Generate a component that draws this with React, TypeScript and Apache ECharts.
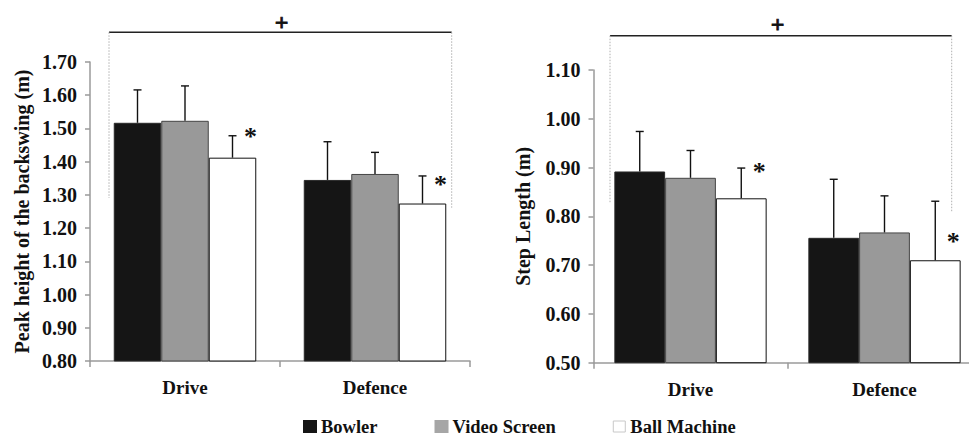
import React, { useEffect, useRef } from "react";
import * as echarts from "echarts";

const categories = ["Drive", "Defence"];
const seriesNames = ["Bowler", "Video Screen", "Ball Machine"];

// Left panel: Peak height of the backswing (m)
const backswingTickLabels = ["0.80", "0.90", "1.00", "1.10", "1.20", "1.30", "1.40", "1.50", "1.60", "1.70"];
const backswingBowler = [1.517, 1.345];
const backswingVideo = [1.523, 1.363];
const backswingMachine = [1.412, 1.274];
const backswingBowlerSD = [0.099, 0.115];
const backswingVideoSD = [0.105, 0.065];
const backswingMachineSD = [0.066, 0.083];
const backswingStarLevels = [1.486, 1.339];

// Right panel: Step Length (m)
const stepTickLabels = ["0.50", "0.60", "0.70", "0.80", "0.90", "1.00", "1.10"];
const stepBowler = [0.892, 0.756];
const stepVideo = [0.879, 0.767];
const stepMachine = [0.837, 0.71];
const stepBowlerSD = [0.082, 0.12];
const stepVideoSD = [0.056, 0.075];
const stepMachineSD = [0.062, 0.121];
const stepStarLevels = [0.899, 0.755];

const FONT = "'Liberation Serif', 'Times New Roman', serif";
const barColors = ["#151515", "#999999", "#ffffff"];
const barBorders = ["#2a2a2a", "#444444", "#111111"];
const AXIS = "#9a9a9a";

function errData(means: number[][], sds: number[][]) {
  const out: number[][] = [];
  means.forEach((m, s) => m.forEach((v, c) => out.push([c, s, v, sds[s][c]])));
  return out;
}

function makeErrRender(barFrac: number) {
  return (params: any, api: any) => {
    const c = api.value(0);
    const s = api.value(1);
    const mean = api.value(2);
    const sd = api.value(3);
    const band = api.size([1, 0])[0];
    const bw = band * barFrac;
    const base = api.coord([c, mean]);
    const top = api.coord([c, mean + sd]);
    const x = base[0] + (s - 1) * bw;
    return {
      type: "group",
      children: [
        { type: "line", shape: { x1: x, y1: base[1], x2: x, y2: top[1] }, style: { stroke: "#111", lineWidth: 1.4 } },
        { type: "line", shape: { x1: x - 4, y1: top[1], x2: x + 4, y2: top[1] }, style: { stroke: "#111", lineWidth: 1.4 } },
      ],
    };
  };
}

function makeStarRender(barFrac: number) {
  return (params: any, api: any) => {
    const c = api.value(0);
    const level = api.value(1);
    const band = api.size([1, 0])[0];
    const bw = band * barFrac;
    const p = api.coord([c, level]);
    return {
      type: "text",
      x: p[0] + bw + 18,
      y: p[1] + 3,
      style: {
        text: "*",
        fill: "#111",
        fontFamily: FONT,
        fontWeight: "bold",
        fontSize: 26,
        align: "center",
        verticalAlign: "middle",
      },
    };
  };
}

export default function App() {
  const ref = useRef<HTMLDivElement>(null);
  useEffect(() => {
    if (!ref.current) return;
    const chart = echarts.init(ref.current, undefined, { renderer: "svg" });
    const leftFrac = 0.25;
    const rightFrac = 0.785 / 3;
    const yAxisCommon = (labels: string[], name: string, nameGap: number, gridIndex: number) => ({
      type: "value",
      gridIndex,
      min: parseFloat(labels[0]),
      max: parseFloat(labels[labels.length - 1]),
      interval: 0.1,
      name,
      nameLocation: "middle",
      nameRotate: 90,
      nameGap,
      nameTextStyle: { fontFamily: FONT, fontWeight: "bold", fontSize: 20, color: "#111" },
      axisLine: { show: true, lineStyle: { color: AXIS, width: 1.5 } },
      axisTick: { show: true, length: 5, lineStyle: { color: AXIS, width: 1.5 } },
      splitLine: { show: false },
      axisLabel: {
        margin: 13,
        fontFamily: FONT,
        fontWeight: "bold",
        fontSize: 20,
        color: "#111",
        formatter: (v: number) => v.toFixed(2),
      },
    });
    const xAxisCommon = (gridIndex: number) => ({
      type: "category",
      gridIndex,
      data: categories,
      axisLine: { show: true, lineStyle: { color: AXIS, width: 1.5 } },
      axisTick: { show: true, length: 6, alignWithLabel: false, lineStyle: { color: AXIS, width: 1.5 } },
      axisLabel: { margin: 17, fontFamily: FONT, fontWeight: "bold", fontSize: 19, color: "#111" },
    });
    const leftMeans = [backswingBowler, backswingVideo, backswingMachine];
    const leftSDs = [backswingBowlerSD, backswingVideoSD, backswingMachineSD];
    const rightMeans = [stepBowler, stepVideo, stepMachine];
    const rightSDs = [stepBowlerSD, stepVideoSD, stepMachineSD];

    const barSeries: any[] = [];
    [leftMeans, rightMeans].forEach((means, g) => {
      means.forEach((vals, s) => {
        barSeries.push({
          type: "bar",
          name: seriesNames[s],
          xAxisIndex: g,
          yAxisIndex: g,
          data: vals,
          barGap: "0%",
          barCategoryGap: g === 0 ? "25%" : "21.5%",
          itemStyle: { color: barColors[s], borderColor: barBorders[s], borderWidth: 1 },
        });
      });
    });

    const thinDot = { stroke: "#b0b0b0", lineWidth: 1, lineDash: [1.5, 1.5] };
    const solid = { stroke: "#222", lineWidth: 1.5 };
    const plusStyle = {
      text: "+",
      fontFamily: FONT,
      fontWeight: "bold",
      fontSize: 24,
      fill: "#111",
      stroke: "#111",
      lineWidth: 0.8,
      align: "center",
      verticalAlign: "middle",
    };

    chart.setOption({
      animation: false,
      backgroundColor: "#ffffff",
      grid: [
        { left: 90, top: 62, width: 380, height: 299 },
        { left: 593.5, top: 70, width: 388, height: 292.7 },
      ],
      xAxis: [xAxisCommon(0), xAxisCommon(1)],
      yAxis: [
        yAxisCommon(backswingTickLabels, "Peak height of the backswing (m)", 58, 0),
        yAxisCommon(stepTickLabels, "Step Length (m)", 61, 1),
      ],
      legend: {
        left: 298,
        top: 412,
        icon: "rect",
        itemWidth: 12,
        itemHeight: 11,
        itemGap: 57,
        textStyle: { fontFamily: FONT, fontWeight: "bold", fontSize: 18.5, color: "#111" },
        data: [
          { name: "Bowler", itemStyle: { color: "#151515", borderColor: "#151515" } },
          { name: "Video Screen", itemStyle: { color: "#a6a6a6", borderColor: "#a6a6a6" } },
          { name: "Ball Machine", itemStyle: { color: "#ffffff", borderColor: "#c8c8c8", borderWidth: 1 } },
        ],
        selectedMode: false,
      },
      graphic: [
        { type: "line", shape: { x1: 109, y1: 32.3, x2: 451.7, y2: 32.3 }, style: solid },
        { type: "line", shape: { x1: 109, y1: 32.3, x2: 109, y2: 198 }, style: thinDot },
        { type: "line", shape: { x1: 451.7, y1: 32.3, x2: 451.7, y2: 207.7 }, style: thinDot },
        { type: "text", x: 281.7, y: 21.7, style: plusStyle },
        { type: "line", shape: { x1: 610, y1: 35.7, x2: 951.7, y2: 35.7 }, style: solid },
        { type: "line", shape: { x1: 610, y1: 35.7, x2: 610, y2: 203 }, style: thinDot },
        { type: "line", shape: { x1: 951.7, y1: 35.7, x2: 951.7, y2: 211.7 }, style: thinDot },
        { type: "text", x: 777.7, y: 24.3, style: plusStyle },
      ],
      series: [
        ...barSeries,
        {
          type: "custom",
          name: "err-left",
          xAxisIndex: 0,
          yAxisIndex: 0,
          renderItem: makeErrRender(leftFrac),
          data: errData(leftMeans, leftSDs),
          z: 5,
          silent: true,
        },
        {
          type: "custom",
          name: "err-right",
          xAxisIndex: 1,
          yAxisIndex: 1,
          renderItem: makeErrRender(rightFrac),
          data: errData(rightMeans, rightSDs),
          z: 5,
          silent: true,
        },
        {
          type: "custom",
          name: "star-left",
          xAxisIndex: 0,
          yAxisIndex: 0,
          renderItem: makeStarRender(leftFrac),
          data: backswingStarLevels.map((v, c) => [c, v]),
          z: 6,
          silent: true,
        },
        {
          type: "custom",
          name: "star-right",
          xAxisIndex: 1,
          yAxisIndex: 1,
          renderItem: makeStarRender(rightFrac),
          data: stepStarLevels.map((v, c) => [c, v]),
          z: 6,
          silent: true,
        },
      ],
    });
    return () => chart.dispose();
  }, []);
  return (
    <div style={{ position: "fixed", left: 0, top: 0, width: 969, height: 436, overflow: "hidden", background: "#fff" }}>
      <div ref={ref} style={{ position: "absolute", left: 0, top: 0, width: 992, height: 436 }} />
    </div>
  );
}
